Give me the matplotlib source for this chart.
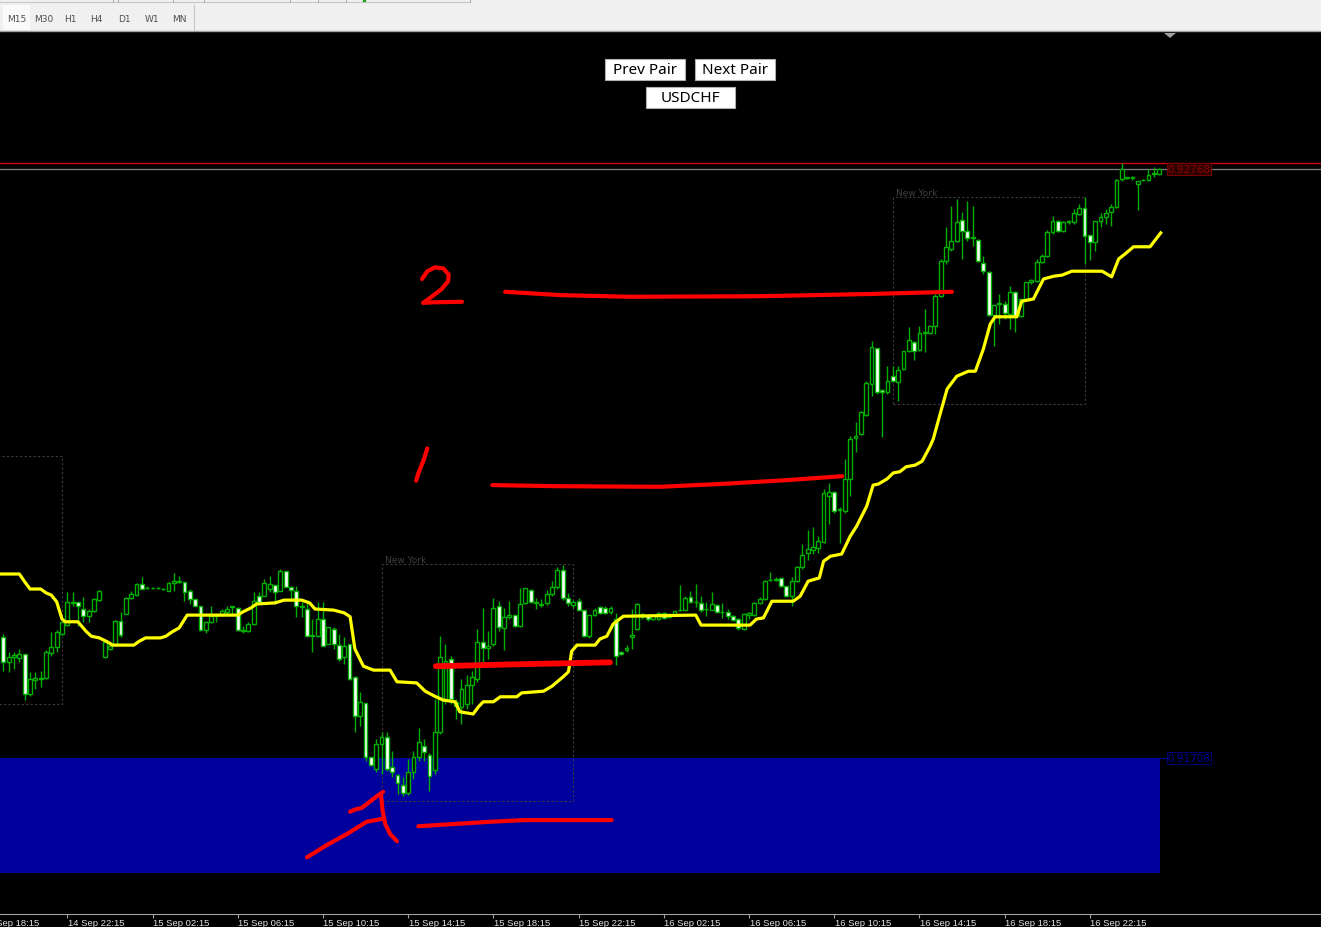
import numpy as np
import matplotlib.pyplot as plt
import matplotlib.transforms as mtrans
from matplotlib.patches import Rectangle, Polygon

# USDCHF M15 candles, prices in points (1 point = 0.00001), bar 0 = 14 Sep 19:15
opens = [
    91926, 91881, 91890, 91888, 91895, 91823, 91848, 91850, 91852, 91897,
    91908, 91931, 91947, 91987, 91989, 91976, 91963, 91972, 91992, 91890,
    91904, 91911, 91954, 91967, 91996, 92001, 92021, 92014, 92014, 92014,
    92012, 92008, 92023, 92025, 92025, 92008, 91994, 91981, 91938, 91953,
    91963, 91965, 91971, 91980, 91978, 91936, 91936, 91949, 91999, 91999,
    92012, 92019, 92008, 92044, 92016, 92008, 91980, 91976, 91927, 91927,
    91958, 91913, 91940, 91911, 91890, 91913, 91854, 91783, 91807, 91710,
    91688, 91733, 91746, 91692, 91677, 91659, 91645, 91683, 91710, 91729,
    91713, 91686, 91755, 91814, 91886, 91809, 91800, 91805, 91839, 91850,
    91917, 91906, 91913, 91981, 91942, 91962, 91965, 91945, 91987, 92010,
    91987, 91983, 91987, 92003, 92016, 92046, 91996, 91983, 91990, 91974,
    91927, 91965, 91980, 91978, 91971, 91958, 91899, 91902, 91926, 91940,
    91962, 91963, 91958, 91958, 91969, 91962, 91965, 91974, 91974, 91998,
    91989, 91987, 91976, 91974, 91983, 91971, 91971, 91963, 91958, 91940,
    91965, 91965, 91987, 91994, 92028, 92028, 92032, 92017, 91999, 92026,
    92052, 92077, 92082, 92086, 92097, 92179, 92187, 92154, 92152, 92210,
    92284, 92291, 92325, 92381, 92446, 92370, 92367, 92395, 92385, 92408,
    92440, 92457, 92442, 92473, 92473, 92485, 92539, 92602, 92624, 92638,
    92676, 92656, 92644, 92640, 92599, 92583, 92505, 92525, 92525, 92507,
    92547, 92503, 92534, 92565, 92566, 92601, 92611, 92655, 92674, 92656,
    92673, 92673, 92687, 92698, 92649, 92637, 92674, 92682, 92691, 92700,
    92750, 92752, 92752, 92741, 92748, 92748, 92759, 92759,
]
highs = [
    91931, 91899, 91899, 91904, 91895, 91863, 91863, 91864, 91902, 91935,
    91938, 91953, 92007, 92007, 91989, 91998, 91976, 91996, 92010, 91917,
    91917, 91956, 91971, 91998, 92008, 92023, 92034, 92017, 92016, 92016,
    92014, 92025, 92041, 92035, 92025, 92012, 91994, 91981, 91954, 91981,
    91967, 91976, 91981, 91981, 91980, 91945, 91953, 92007, 92007, 92030,
    92035, 92019, 92048, 92044, 92017, 92017, 91989, 91989, 91958, 91989,
    91989, 91944, 91944, 91931, 91926, 91913, 91855, 91827, 91807, 91710,
    91742, 91755, 91755, 91720, 91679, 91674, 91706, 91720, 91762, 91742,
    91717, 91814, 91927, 91913, 91891, 91814, 91850, 91857, 91864, 91940,
    91978, 91936, 91996, 91990, 91978, 91990, 91965, 92014, 92014, 92012,
    91996, 91994, 92010, 92026, 92052, 92055, 92005, 91992, 91996, 91974,
    91965, 91978, 91981, 91981, 91981, 91969, 91900, 91911, 91976, 91987,
    91969, 91967, 91967, 91971, 91971, 91969, 91972, 92019, 91999, 92008,
    92021, 91999, 91989, 92007, 91985, 91987, 91976, 91965, 91960, 91969,
    91971, 91989, 91998, 92028, 92043, 92034, 92032, 92017, 92034, 92053,
    92093, 92118, 92124, 92107, 92192, 92203, 92188, 92160, 92246, 92287,
    92313, 92332, 92386, 92458, 92446, 92372, 92413, 92413, 92413, 92440,
    92484, 92458, 92485, 92516, 92487, 92543, 92606, 92664, 92701, 92714,
    92691, 92710, 92701, 92642, 92611, 92584, 92523, 92543, 92530, 92557,
    92548, 92534, 92565, 92570, 92606, 92615, 92658, 92683, 92676, 92674,
    92676, 92696, 92705, 92718, 92649, 92674, 92689, 92696, 92705, 92750,
    92779, 92754, 92756, 92746, 92750, 92768, 92772, 92770,
]
lows = [
    91864, 91863, 91868, 91881, 91812, 91819, 91832, 91836, 91850, 91891,
    91899, 91929, 91945, 91981, 91945, 91953, 91953, 91971, 91990, 91888,
    91902, 91911, 91926, 91967, 91994, 91999, 92012, 92012, 92012, 92012,
    92010, 92008, 92008, 92023, 91990, 91985, 91981, 91936, 91933, 91951,
    91953, 91963, 91967, 91967, 91936, 91933, 91935, 91947, 91985, 91999,
    92007, 91985, 92008, 92016, 91990, 91962, 91962, 91926, 91899, 91926,
    91909, 91913, 91904, 91882, 91877, 91848, 91755, 91765, 91702, 91693,
    91683, 91679, 91684, 91674, 91643, 91639, 91641, 91670, 91702, 91702,
    91648, 91679, 91751, 91805, 91805, 91778, 91769, 91796, 91805, 91845,
    91875, 91886, 91909, 91936, 91902, 91958, 91944, 91944, 91985, 91987,
    91976, 91980, 91983, 91999, 92012, 91992, 91981, 91978, 91972, 91926,
    91924, 91963, 91967, 91967, 91967, 91875, 91893, 91899, 91904, 91938,
    91958, 91954, 91956, 91956, 91958, 91960, 91963, 91972, 91974, 91987,
    91980, 91971, 91963, 91974, 91969, 91960, 91958, 91954, 91938, 91938,
    91958, 91963, 91985, 91992, 92026, 92026, 92016, 91998, 91981, 92025,
    92048, 92064, 92075, 92077, 92095, 92129, 92149, 92095, 92149, 92179,
    92259, 92289, 92323, 92359, 92363, 92286, 92363, 92385, 92350, 92406,
    92439, 92424, 92440, 92439, 92471, 92471, 92538, 92597, 92620, 92637,
    92606, 92638, 92629, 92601, 92579, 92503, 92449, 92489, 92498, 92480,
    92475, 92502, 92532, 92561, 92565, 92599, 92610, 92651, 92655, 92655,
    92669, 92669, 92685, 92597, 92604, 92620, 92664, 92669, 92665, 92698,
    92746, 92750, 92748, 92694, 92746, 92746, 92754, 92757,
]
closes = [
    91881, 91890, 91893, 91895, 91823, 91850, 91852, 91852, 91899, 91908,
    91935, 91953, 91989, 91989, 91981, 91963, 91972, 91994, 92008, 91917,
    91909, 91954, 91929, 91996, 92003, 92021, 92012, 92014, 92014, 92013,
    92012, 92023, 92026, 92026, 92007, 91994, 91981, 91938, 91953, 91963,
    91965, 91972, 91976, 91981, 91938, 91938, 91949, 91990, 91989, 92023,
    92021, 92007, 92044, 92016, 92010, 91981, 91981, 91927, 91929, 91958,
    91909, 91944, 91913, 91886, 91909, 91850, 91783, 91809, 91710, 91695,
    91733, 91746, 91688, 91683, 91663, 91645, 91683, 91710, 91737, 91719,
    91675, 91755, 91890, 91882, 91814, 91801, 91832, 91839, 91854, 91917,
    91906, 91909, 91978, 91944, 91962, 91965, 91945, 91985, 92014, 91989,
    91989, 91985, 92003, 92016, 92046, 91996, 91987, 91989, 91974, 91927,
    91965, 91974, 91969, 91969, 91978, 91891, 91895, 91906, 91929, 91985,
    91967, 91958, 91965, 91969, 91960, 91965, 91972, 91974, 91996, 91989,
    91989, 91974, 91976, 91985, 91971, 91971, 91963, 91956, 91942, 91967,
    91969, 91987, 91994, 92026, 92028, 92030, 92017, 91999, 92026, 92052,
    92073, 92084, 92088, 92098, 92185, 92187, 92152, 92156, 92210, 92282,
    92287, 92331, 92383, 92448, 92367, 92367, 92386, 92386, 92406, 92440,
    92460, 92440, 92473, 92475, 92485, 92539, 92602, 92628, 92638, 92673,
    92656, 92644, 92646, 92602, 92584, 92505, 92523, 92527, 92509, 92547,
    92503, 92534, 92565, 92568, 92601, 92611, 92655, 92674, 92656, 92673,
    92674, 92689, 92698, 92647, 92637, 92674, 92682, 92689, 92700, 92748,
    92768, 92753, 92753, 92746, 92749, 92757, 92761, 92768,
]

# yellow indicator line (bar, price in points)
yellow_bar = [-1, 3, 4, 5, 7, 8, 9, 10, 11, 11.6, 14, 15.5, 16.5, 18, 19.5, 20.5,
              24.5, 25.5, 26.7, 29.5, 30.5, 31.7, 33, 34.5, 44, 45, 46.5, 47.5, 51,
              52.7, 56, 57.5, 58.5, 62, 64, 65.1, 66, 67.6, 69.5, 72.6, 73.9, 77.6,
              79.2, 81, 82.6, 84.8, 85.7, 88.2, 89.2, 90.1, 92, 93.3, 96.4, 97.3,
              101.4, 103, 105.1, 106.1, 106.7, 107.7, 111.1, 112, 113.3, 114.5,
              116.4, 130, 131, 140.2, 141.4, 142.7, 144.3, 148.3, 149.6, 151.1,
              153.2, 154, 155.3, 157.4, 159, 160.2, 162.1, 163.3, 164.3, 165.9,
              167.1, 168.3, 169.5, 171.2, 172.5, 174, 174.6, 176, 177.2, 179,
              181.2, 182.5, 184, 185.3, 186.2, 190.3, 191.2, 193.4, 195.3, 197.2,
              198.8, 200.6, 206.3, 208.1, 209.4, 210.6, 212.2, 215.3, 217.3]
yellow_val = [92039, 92039, 92025, 92012, 92012, 92005, 92001, 91989, 91958, 91953,
              91953, 91936, 91927, 91924, 91917, 91911, 91911, 91918, 91924, 91924,
              91927, 91935, 91942, 91965, 91965, 91971, 91978, 91985, 91987, 91992,
              91992, 91987, 91976, 91974, 91969, 91962, 91904, 91873, 91866, 91866,
              91845, 91843, 91828, 91819, 91812, 91809, 91791, 91787, 91800, 91809,
              91809, 91818, 91818, 91825, 91828, 91837, 91854, 91863, 91900, 91911,
              91911, 91922, 91927, 91949, 91963, 91965, 91947, 91947, 91958, 91960,
              91990, 91990, 91999, 92026, 92032, 92062, 92071, 92075, 92107, 92125,
              92161, 92199, 92201, 92210, 92221, 92223, 92232, 92235, 92242, 92269,
              92282, 92331, 92372, 92395, 92404, 92404, 92444, 92489, 92502, 92502,
              92530, 92534, 92570, 92575, 92577, 92584, 92584, 92574, 92606, 92615,
              92628, 92628, 92653]

tick_bars = [-4, 12, 28, 44, 60, 76, 92, 108, 124, 140, 156, 172, 188, 204]
tick_labels = ["14 Sep 18:15", "14 Sep 22:15", "15 Sep 02:15", "15 Sep 06:15",
               "15 Sep 10:15", "15 Sep 14:15", "15 Sep 18:15", "15 Sep 22:15",
               "16 Sep 02:15", "16 Sep 06:15", "16 Sep 10:15", "16 Sep 14:15",
               "16 Sep 18:15", "16 Sep 22:15"]

zone_top, zone_bottom, zone_end = 91708, 91501, 217.2
bid_price = 92768
red_level = 92779

# New York session boxes
ny_start = [-25, 71, 167]
ny_end = [11, 107, 203]
ny_high = [92251, 92057, 92718]
ny_low = [91805, 91630, 92345]

# hand drawn marks (bar, price in points)
two_bar = [78.6, 79.6, 81.0, 82.6, 83.6, 83.5, 82.3, 80.4, 78.8, 80.5, 86.1]
two_val = [92570, 92584, 92591, 92589, 92578, 92566, 92552, 92538, 92527, 92528, 92529]
one_bar = [79.6, 78.9, 77.9, 77.5]
one_val = [92265, 92244, 92220, 92207]
line2_bar = [94.2, 104.5, 117.7, 142.1, 162.7, 178.1]
line2_val = [92547, 92541, 92538, 92539, 92543, 92547]
line1_bar = [91.8, 104.5, 123.3, 134.6, 147.2, 157.5]
line1_val = [92199, 92197, 92196, 92201, 92208, 92215]
mid_bar = [81.2, 98.9, 113.9]
mid_val = [91873, 91877, 91880]
arrow_bar = [57.0, 60.7, 64.5, 68.2, 71.0]
arrow_val = [91529, 91551, 91571, 91593, 91598]
hook_bar = [65.1, 66.0, 67.3, 68.9, 70.4, 71.3]
hook_val = [91611, 91615, 91618, 91630, 91641, 91647]
stem_bar = [70.9, 71.2, 71.7, 72.6, 73.9]
stem_val = [91642, 91613, 91589, 91571, 91558]
low_bar = [77.9, 91.4, 97.6, 114.2]
low_val = [91585, 91593, 91596, 91596]

P = 1e5
W, H = 1321, 928
green = '#00b000'

fig = plt.figure(figsize=(W / 100, H / 100), dpi=100, facecolor='black')
ax = fig.add_axes([0, (H - 915) / H, 1, (915 - 33) / H])
ax.set_facecolor('black')
ax.set_xlim(-0.64, 247.4)
ax.set_ylim(0.91427, 0.930146)

o, h, l, c = [np.array(a) / P for a in (opens, highs, lows, closes)]
x = np.arange(len(o))
up = c >= o

# zone
ax.add_patch(Rectangle((-5, zone_bottom / P), zone_end + 5, (zone_top - zone_bottom) / P,
                       fc='#00009c', ec='none', zorder=1))
ax.plot([zone_end, 218.4], [zone_top / P] * 2, color='#00009c', lw=0.8, zorder=1)
ax.text(218.6, zone_top / P, '0.91708', color='#0000a0', fontsize=7.5, va='center',
        ha='left', bbox=dict(fc='black', ec='#000070', lw=0.8, pad=0.6), zorder=6)

# session boxes
for s, e, hi, lo in zip(ny_start, ny_end, ny_high, ny_low):
    ax.add_patch(Rectangle((s, lo / P), e - s, (hi - lo) / P, fill=False,
                           ec='#3c3c3c', lw=0.8, ls=(0, (2, 2)), zorder=2))
    if s >= 0:
        ax.text(s + 0.6, hi / P, 'New York', color='#404040', fontsize=6.5,
                va='bottom', ha='left', zorder=2)

# price lines
ax.axhline(red_level / P, color='#e00000', lw=0.9, zorder=2)
ax.axhline(bid_price / P, color='#808080', lw=0.9, zorder=2)
ax.text(218.6, bid_price / P, '0.92768', color='#8a0000', fontsize=7.5, va='center',
        ha='left', bbox=dict(fc='#300000', ec='#700000', lw=0.8, pad=0.6), zorder=6)

# candles
ax.vlines(x, l, h, color=green, lw=1.0, zorder=3)
ax.bar(x[up], (c - o)[up], bottom=o[up], width=0.72, color='black',
       edgecolor=green, lw=1.0, zorder=4)
ax.bar(x[~up], (o - c)[~up], bottom=c[~up], width=0.72, color='white',
       edgecolor=green, lw=1.0, zorder=4)

# indicator
ax.plot(yellow_bar, np.array(yellow_val) / P, color='#ffff00', lw=2.3, zorder=5)

# hand drawn red strokes
red = '#ff0000'
for bx, vy, w in [(two_bar, two_val, 3.0), (one_bar, one_val, 3.0),
                  (line2_bar, line2_val, 3.0), (line1_bar, line1_val, 3.0),
                  (mid_bar, mid_val, 4.2), (arrow_bar, arrow_val, 3.0),
                  (hook_bar, hook_val, 3.0), (stem_bar, stem_val, 3.0),
                  (low_bar, low_val, 3.0)]:
    ax.plot(bx, np.array(vy) / P, color=red, lw=w, solid_capstyle='round',
            solid_joinstyle='round', zorder=7)

# time axis
for s in ['top', 'left', 'right']:
    ax.spines[s].set_visible(False)
ax.spines['bottom'].set_color('#a0a0a0')
ax.set_yticks([])
ax.set_xticks(tick_bars[1:])
ax.tick_params(axis='x', length=3, width=0.8, color='#a0a0a0', labelbottom=False)
tr = mtrans.blended_transform_factory(ax.transData, ax.transAxes)
for b, lab in zip(tick_bars, tick_labels):
    ax.text(b + 0.1, -0.004, lab, transform=tr, color='#e0e0e0', fontsize=6.8,
            family='Liberation Sans', va='top', ha='left', clip_on=False)

# toolbar and buttons, in screen pixels
ui = fig.add_axes([0, 0, 1, 1], zorder=5)
ui.set_xlim(0, W)
ui.set_ylim(H, 0)
ui.axis('off')
ui.patch.set_alpha(0)
ui.add_patch(Rectangle((0, 0), W, 32, fc='#f0f0f0', ec='none'))
ui.plot([0, 470], [3, 3], color='#c8c8c8', lw=0.8)
for xs in [113, 118, 173, 204, 290, 318, 346, 470]:
    ui.plot([xs, xs], [0, 3], color='#b0b0b0', lw=0.8)
ui.plot([364], [1], 's', color='#20a020', ms=2)
ui.add_patch(Rectangle((3, 6), 27, 25, fc='#fafafa', ec='none'))
ui.plot([194, 194], [6, 31], color='#c8c8c8', lw=0.8)
for xs, lab in zip([7, 34, 64, 90, 118, 145, 172], ['M15', 'M30', 'H1', 'H4', 'D1', 'W1', 'MN']):
    ui.text(xs, 19, lab, color='#505050', fontsize=6.5, va='center', ha='left')
ui.plot([0, W], [32, 32], color='#a0a0a0', lw=1)
ui.add_patch(Polygon([(1164, 34), (1176, 34), (1170, 39)], fc='#a0a0a0', ec='none'))

for bx, by, bw, lab in [(605, 60, 80, 'Prev Pair'), (695, 60, 80, 'Next Pair'),
                        (646, 88, 89, 'USDCHF')]:
    ui.add_patch(Rectangle((bx, by), bw, 21, fc='white', ec='#b0b0b0', lw=0.8))
    ui.text(bx + bw / 2, by + 11, lab, color='black', fontsize=11,
            family='Noto Sans', va='center', ha='center')

fig.savefig('out.png', dpi=100, facecolor='black')
